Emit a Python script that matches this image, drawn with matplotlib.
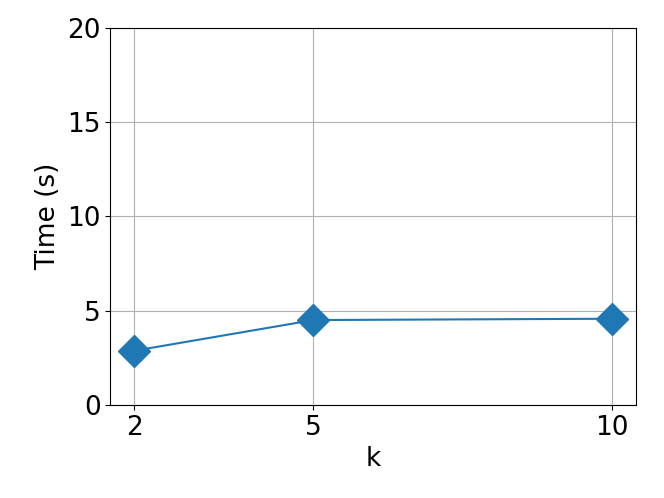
import matplotlib
matplotlib.use("Agg")
import matplotlib.pyplot as plt

# values
k_values = [2, 5, 10]
times = [2.87, 4.50, 4.57]
y_ticks = [0, 5, 10, 15, 20]

TEXT_SIZE = 19

plt.rcParams.update({
    "font.size": TEXT_SIZE,
    "axes.labelsize": TEXT_SIZE,
    "xtick.labelsize": TEXT_SIZE,
    "ytick.labelsize": TEXT_SIZE,
})

fig, ax = plt.subplots(figsize=(6.64, 4.98), dpi=100)
ax.plot(k_values, times, marker="D", markersize=16, color="#1f77b4", linewidth=1.5)

ax.set_xticks(k_values)
ax.set_yticks(y_ticks)
ax.set_ylim(0, 20)
ax.set_xlabel("k")
ax.set_ylabel("Time (s)")
ax.grid(True)

fig.subplots_adjust(left=0.166, right=0.958, top=0.944, bottom=0.187)
fig.savefig("out.png", dpi=100)
